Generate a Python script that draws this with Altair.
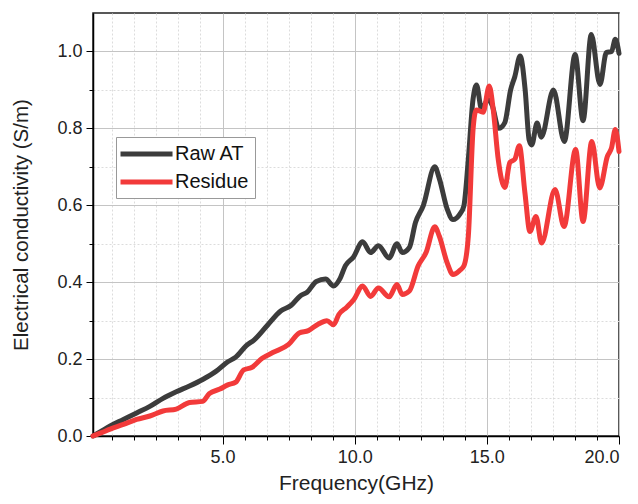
import altair as alt
import pandas as pd

# ---- data ----
raw_f = [0.1, 0.4, 0.75, 1.25, 1.75, 2.25, 2.75, 3.25, 3.75, 4.25, 4.75, 5.2, 5.5, 5.9, 6.2,
         6.7, 7.2, 7.6, 7.95, 8.2, 8.55, 8.9, 9.2, 9.45, 9.65, 9.95, 10.3, 10.6, 10.9, 11.3,
         11.6, 11.8, 12.07, 12.3, 12.6, 13.03, 13.2, 13.5, 13.72, 13.98, 14.13, 14.3, 14.48,
         14.61, 14.8, 15.05, 15.2, 15.45, 15.68, 15.9, 16.06, 16.26, 16.45, 16.6, 16.7, 16.9,
         17.06, 17.52, 17.93, 18.34, 18.64, 18.95, 19.28, 19.52, 19.72, 19.86, 20.0]
raw_v = [0.0, 0.012, 0.026, 0.043, 0.06, 0.077, 0.098, 0.115, 0.13, 0.147, 0.168, 0.193, 0.205,
         0.235, 0.25, 0.288, 0.325, 0.34, 0.365, 0.374, 0.402, 0.408, 0.39, 0.41, 0.443, 0.465,
         0.505, 0.477, 0.495, 0.463, 0.50, 0.477, 0.49, 0.555, 0.60, 0.70, 0.67, 0.59, 0.563,
         0.577, 0.598, 0.72, 0.877, 0.913, 0.85, 0.875, 0.86, 0.80, 0.815, 0.90, 0.935, 0.988,
         0.90, 0.77, 0.757, 0.814, 0.777, 0.90, 0.766, 0.992, 0.82, 1.044, 0.914, 0.997, 1.0,
         1.032, 0.995]

res_f = [0.1, 0.4, 0.75, 1.25, 1.75, 2.25, 2.75, 3.25, 3.75, 4.25, 4.5, 4.9, 5.2, 5.5, 5.8,
         6.1, 6.5, 6.9, 7.5, 7.9, 8.25, 8.6, 8.95, 9.2, 9.4, 9.7, 9.97, 10.3, 10.6, 10.9, 11.3,
         11.6, 11.8, 12.07, 12.4, 12.7, 13.03, 13.2, 13.5, 13.72, 13.98, 14.13, 14.3, 14.48,
         14.6, 14.86, 15.09, 15.24, 15.43, 15.68, 15.87, 16.06, 16.23, 16.44, 16.63, 16.86,
         17.07, 17.58, 17.92, 18.36, 18.64, 18.97, 19.27, 19.56, 19.72, 19.86, 20.0]
res_v = [0.0, 0.008, 0.018, 0.03, 0.043, 0.052, 0.065, 0.07, 0.087, 0.09, 0.11, 0.122, 0.133,
         0.14, 0.172, 0.178, 0.202, 0.217, 0.238, 0.268, 0.274, 0.29, 0.30, 0.289, 0.316, 0.335,
         0.355, 0.39, 0.363, 0.385, 0.362, 0.394, 0.368, 0.377, 0.442, 0.477, 0.544, 0.52, 0.45,
         0.42, 0.431, 0.442, 0.52, 0.798, 0.848, 0.842, 0.91, 0.85, 0.72, 0.646, 0.711, 0.72,
         0.755, 0.633, 0.532, 0.571, 0.502, 0.641, 0.545, 0.745, 0.558, 0.766, 0.645, 0.727,
         0.75, 0.797, 0.74]

series_names = ["Raw AT", "Residue"]
series_colors = ["#3c3c3c", "#f23a3a"]

x_major = [5, 10, 15, 20]
x_minor = [round(k * 5 / 6, 4) for k in range(1, 24) if k % 6 != 0]
y_major = [0.0, 0.2, 0.4, 0.6, 0.8, 1.0]
y_minor = [0.1, 0.3, 0.5, 0.7, 0.9]

df = pd.concat([
    pd.DataFrame({"f": raw_f, "v": raw_v, "series": series_names[0]}),
    pd.DataFrame({"f": res_f, "v": res_v, "series": series_names[1]}),
])

FONT = "Liberation Sans"
xs = alt.Scale(domain=[0.1, 20], nice=False, zero=False)
ys = alt.Scale(domain=[0, 1.1], nice=False, zero=False)

major_x = alt.Axis(values=x_major, format=".1f", orient="bottom", title="Frequency(GHz)",
                   tickSize=8, tickColor="black", domainColor="black", domainWidth=1.5,
                   labelPadding=4, labelFontSize=18, labelColor="#222", labelFont=FONT,
                   titleFontSize=21, titleFont=FONT, titleFontWeight="normal", titleColor="#222",
                   titlePadding=6, grid=True, gridColor="#c4c4c4", gridWidth=1)
major_y = alt.Axis(values=y_major, format=".1f", orient="left",
                   title="Electrical conductivity (S/m)",
                   tickSize=7, tickColor="black", domainColor="black", domainWidth=1.5,
                   labelPadding=4, labelFontSize=18, labelColor="#222", labelFont=FONT,
                   titleFontSize=20.5, titleFont=FONT, titleFontWeight="normal", titleColor="#222",
                   titlePadding=25, grid=True, gridColor="#c4c4c4", gridWidth=1)
minor_x = alt.Axis(values=x_minor, orient="bottom", labels=False, title=None, domain=False,
                   tickSize=4, tickColor="black", grid=True, gridColor="#dcdcdc",
                   gridDash=[2, 2], gridWidth=1)
minor_y = alt.Axis(values=y_minor, orient="left", labels=False, title=None, domain=False,
                   tickSize=4, tickColor="black", grid=True, gridColor="#dcdcdc",
                   gridDash=[2, 2], gridWidth=1)

minor = alt.Chart(df).mark_point(opacity=0).encode(
    x=alt.X("f:Q", scale=xs, axis=minor_x),
    y=alt.Y("v:Q", scale=ys, axis=minor_y),
)

lines = alt.Chart(df).mark_line(strokeWidth=5, interpolate="monotone",
                                strokeCap="round", strokeJoin="round").encode(
    x=alt.X("f:Q", scale=xs, axis=major_x),
    y=alt.Y("v:Q", scale=ys, axis=major_y),
    color=alt.Color("series:N",
                    scale=alt.Scale(domain=series_names, range=series_colors),
                    legend=alt.Legend(title=None, orient="none", legendX=23, legendY=124,
                                      fillColor="white", strokeColor="#999",
                                      padding=6, rowPadding=7,
                                      symbolType="M-1.47,0H4.65", symbolSize=289,
                                      symbolStrokeWidth=5, symbolFillColor="transparent",
                                      labelFontSize=20, labelFont=FONT, labelColor="#111",
                                      labelOffset=31)),
)

chart = alt.layer(minor, lines).resolve_axis(x="independent", y="independent").properties(
    width=526, height=423,
    autosize=alt.AutoSizeParams(type="none"),
    padding={"left": 85, "top": 5, "right": 11, "bottom": 60},
    background="white",
).configure_view(stroke="#222", strokeWidth=1.5)

chart.save("out.html", embed_options={"renderer": "svg", "actions": False})
